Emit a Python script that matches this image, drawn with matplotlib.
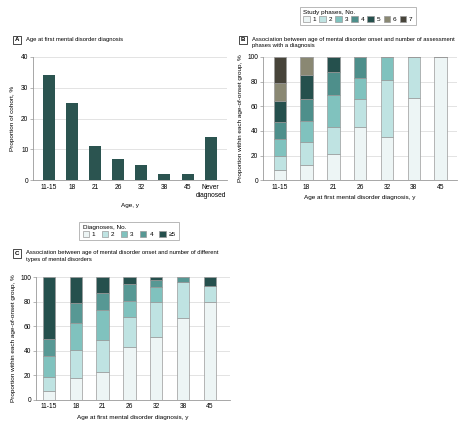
import matplotlib
matplotlib.use('Agg')
from matplotlib import pyplot as plt
from matplotlib.patches import Patch
import numpy as np

plt.rcParams['font.family'] = ['Liberation Sans Narrow', 'Liberation Sans', 'DejaVu Sans']
plt.rcParams['font.size'] = 5

# panel A
ages_a = ['11-15', '18', '21', '26', '32', '38', '45', 'Never\ndiagnosed']
cohort_pct = [34, 25, 11, 7, 5, 2, 2, 14]

# panel B: study phases with a diagnosis, by age of onset (bottom to top 1..7)
ages = ['11-15', '18', '21', '26', '32', '38', '45']
phases_labels = ['1', '2', '3', '4', '5', '6', '7']
phase1 = [8, 12, 21, 43, 35, 67, 100]
phase2 = [12, 19, 22, 23, 46.5, 33, 0]
phase3 = [13.5, 17, 26.5, 17, 18.5, 0, 0]
phase4 = [13.5, 18, 18.5, 17, 0, 0, 0]
phase5 = [17, 19, 12, 0, 0, 0, 0]
phase6 = [15, 15, 0, 0, 0, 0, 0]
phase7 = [21, 0, 0, 0, 0, 0, 0]

# panel C: number of different diagnoses
diag_labels = ['1', '2', '3', '4', '≥5']
diag1 = [7, 18, 23, 43, 51, 67, 80]
diag2 = [12, 23, 26, 24.5, 29, 29, 13]
diag3 = [17, 21.5, 24, 13, 12, 0, 0]
diag4 = [13.5, 16.5, 14, 13.5, 6, 4, 0]
diag5 = [50.5, 21, 13, 6, 2, 0, 7]

dark = '#2b5450'
phase_colors = ['#edf5f5', '#bfe3e2', '#80c2be', '#4e8f8b', '#25504d', '#8a8873', '#47443a']
diag_colors = ['#edf5f5', '#bfe3e2', '#80c2be', '#579894', '#25504d']
edge = '#9a9a9a'
grid_c = '#e3e3e3'

fig = plt.figure(figsize=(4.67, 4.25), dpi=100)


def style(ax):
    for s in ['top', 'right']:
        ax.spines[s].set_visible(False)
    ax.spines['left'].set_color('#999999')
    ax.spines['bottom'].set_color('#999999')
    ax.spines['left'].set_linewidth(0.6)
    ax.spines['bottom'].set_linewidth(0.6)
    ax.tick_params(axis='y', length=2, width=0.5, color='#999999', pad=1.5, labelsize=4.8)
    ax.tick_params(axis='x', length=0, pad=2.5, labelsize=4.8)
    ax.yaxis.grid(True, color=grid_c, linewidth=0.7)
    ax.set_axisbelow(True)


def panel_title(x, y, letter, text):
    fig.text(x, y, letter, fontsize=4.4, fontweight='bold', va='top', ha='left',
             bbox=dict(boxstyle='square,pad=0.3', fc='white', ec='black', lw=0.5))
    fig.text(x + 0.024, y + 0.002, text, fontsize=4.25, va='top', ha='left', linespacing=1.3)


# A
axA = fig.add_axes([0.071, 0.576, 0.415, 0.290])
xa = np.arange(len(ages_a))
axA.bar(xa, cohort_pct, width=0.52, color=dark)
axA.set_xlim(-0.69, 7.71)
axA.set_ylim(0, 40)
axA.set_yticks([0, 10, 20, 30, 40])
axA.set_xticks(xa)
axA.set_xticklabels(ages_a)
axA.set_ylabel('Proportion of cohort, %', fontsize=4.6, labelpad=4)
axA.set_xlabel('Age, y', fontsize=4.6, labelpad=3)
style(axA)
panel_title(0.031, 0.912, 'A', 'Age at first mental disorder diagnosis')


def stacked(ax, series, colors):
    x = np.arange(len(ages))
    bottom = np.zeros(len(ages))
    for vals, c in zip(series, colors):
        vals = np.array(vals, dtype=float)
        ax.bar(x, vals, bottom=bottom, width=0.46, color=c, edgecolor=edge, linewidth=0.5)
        bottom += vals
    ax.set_xticks(x)
    ax.set_xticklabels(ages)
    ax.set_ylim(0, 100)
    ax.set_yticks([0, 20, 40, 60, 80, 100])
    ax.set_ylabel('Proportion within each age-of-onset group, %', fontsize=4.6, labelpad=3)
    ax.set_xlabel('Age at first mental disorder diagnosis, y', fontsize=4.6, labelpad=3)
    style(ax)


# B
axB = fig.add_axes([0.563, 0.576, 0.415, 0.290])
stacked(axB, [phase1, phase2, phase3, phase4, phase5, phase6, phase7], phase_colors)
axB.set_xlim(-0.63, 6.6)
panel_title(0.516, 0.912, 'B', 'Association between age of mental disorder onset and number of assessment\nphases with a diagnosis')

hB = [Patch(facecolor=c, edgecolor=edge, linewidth=0.5) for c in phase_colors]
legB = fig.legend(hB, phases_labels, title='Study phases, No.', ncol=7, loc='upper left',
                  bbox_to_anchor=(0.636, 0.992), fontsize=4.6, title_fontsize=4.6, frameon=True,
                  fancybox=False, edgecolor='#999999', handlelength=1.0, handleheight=1.0,
                  handletextpad=0.45, columnspacing=0.5, borderpad=0.5, labelspacing=0.2)
legB.get_frame().set_linewidth(0.6)
legB._legend_box.align = 'left'

# C
axC = fig.add_axes([0.077, 0.059, 0.415, 0.289])
stacked(axC, [diag1, diag2, diag3, diag4, diag5], diag_colors)
axC.set_xlim(-0.48, 6.74)
panel_title(0.031, 0.409, 'C', 'Association between age of mental disorder onset and number of different\ntypes of mental disorders')

hC = [Patch(facecolor=c, edgecolor=edge, linewidth=0.5) for c in diag_colors]
legC = fig.legend(hC, diag_labels, title='Diagnoses, No.', ncol=5, loc='upper left',
                  bbox_to_anchor=(0.163, 0.486), fontsize=4.6, title_fontsize=4.6, frameon=True,
                  fancybox=False, edgecolor='#999999', handlelength=1.0, handleheight=1.0,
                  handletextpad=0.45, columnspacing=1.0, borderpad=0.5, labelspacing=0.2)
legC.get_frame().set_linewidth(0.6)
legC._legend_box.align = 'left'

fig.savefig('out.png', dpi=100, facecolor='white')
